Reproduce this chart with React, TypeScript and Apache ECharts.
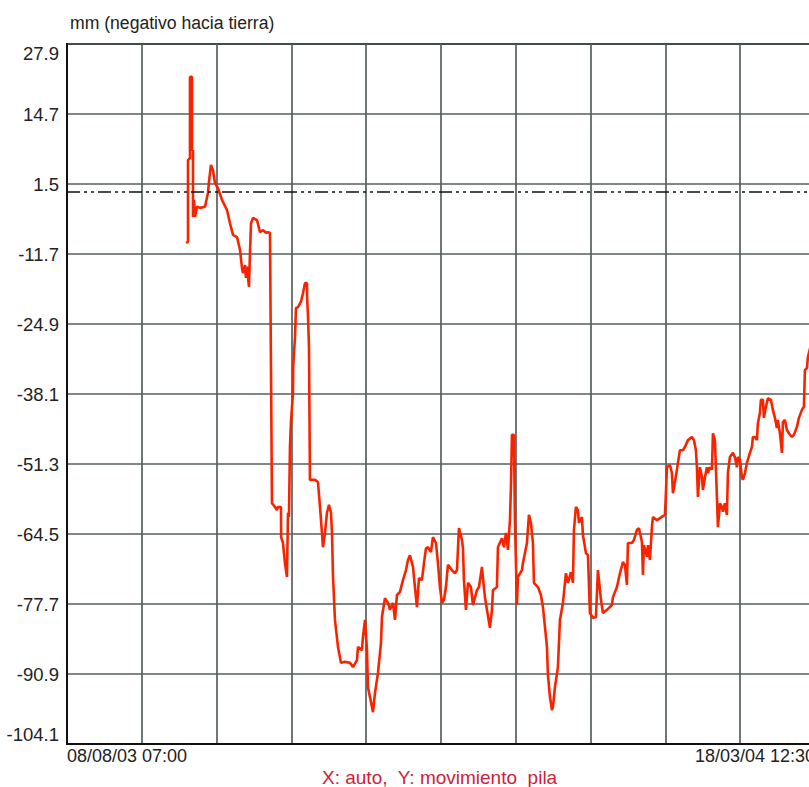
import React, { useEffect, useRef } from "react";
import * as echarts from "echarts";

// Time axis: hours elapsed since 08/08/03 07:00 up to 18/03/04 12:30 (223 days + 5.5 h)
const START_LABEL = "08/08/03 07:00";
const END_LABEL = "18/03/04 12:30";
const SPAN_HOURS = 223 * 24 + 5.5;
const X_DIVISIONS = 10;

// Y axis tick values (mm)
const Y_MIN = -104.1;
const Y_MAX = 27.9;
const Y_STEP = 13.2;

// Reference line (mm)
const REFERENCE_LEVEL = 0;

// Sample times, in days since the start
const dayOffsets = [
  35.51, 36.11, 36.11, 36.7, 36.7, 37.3, 37.3, 37.6, 37.6, 37.9, 38.2, 38.79, 39.69, 41.18, 42.07, 42.37,
  42.97, 43.57, 44.16, 45.06, 46.25, 47.74, 48.64, 49.54, 50.73, 51.63, 52.22, 52.52, 53.12, 53.41, 53.71,
  54.31, 54.61, 54.91, 55.5, 56.7, 57.59, 58.49, 59.38, 59.98, 60.58, 60.87, 61.17, 62.07, 62.67, 62.96,
  63.86, 63.9, 64.45, 65.05, 65.65, 65.95, 66.24, 66.54, 66.84, 67.44, 67.5, 68.04, 68.33, 68.93, 69.83,
  70.42, 71.02, 71.62, 71.65, 71.91, 72.21, 72.51, 74.0, 74.9, 75.5, 76.09, 76.39, 76.99, 77.58, 78.18,
  78.78, 79.08, 79.37, 79.97, 80.87, 81.76, 82.96, 84.45, 85.34, 86.54, 86.84, 88.03, 88.33, 88.93, 89.52,
  89.82, 91.01, 91.31, 91.91, 92.8, 93.7, 94.0, 94.89, 95.79, 96.39, 97.28, 97.88, 98.47, 99.37, 100.26,
  101.16, 101.76, 102.35, 103.25, 103.84, 104.44, 105.04, 105.93, 106.53, 107.13, 107.72, 108.62, 109.21,
  110.11, 110.71, 111.3, 111.9, 112.5, 113.09, 113.69, 114.88, 115.78, 116.38, 116.97, 117.87, 118.17,
  118.46, 119.06, 119.66, 120.55, 121.15, 122.34, 122.94, 123.84, 124.13, 124.73, 125.33, 126.22, 126.82,
  127.12, 128.31, 128.61, 129.8, 130.4, 131.0, 131.59, 132.19, 132.49, 132.79, 133.38, 133.68, 134.28,
  134.58, 135.77, 136.07, 137.26, 137.86, 138.46, 139.05, 139.35, 140.55, 141.44, 142.04, 142.64, 143.23,
  143.53, 144.13, 144.72, 145.02, 145.62, 146.51, 147.11, 148.01, 148.9, 149.5, 150.39, 150.99, 151.29,
  151.89, 152.48, 152.78, 153.68, 153.97, 154.87, 155.47, 156.06, 156.96, 157.85, 158.45, 159.35, 159.95,
  161.14, 162.63, 162.93, 164.12, 165.02, 165.91, 166.51, 167.1, 167.4, 168.6, 169.19, 170.09, 170.69,
  171.58, 171.88, 172.18, 173.07, 173.37, 173.97, 174.56, 174.86, 176.06, 176.95, 178.44, 178.74, 179.04,
  179.94, 180.53, 180.83, 181.43, 182.02, 182.32, 182.92, 183.81, 184.41, 185.31, 186.5, 187.1, 187.7,
  187.99, 188.29, 188.89, 189.49, 189.78, 190.38, 190.98, 191.27, 191.87, 192.47, 192.77, 193.36, 193.96,
  194.26, 194.86, 195.45, 195.75, 196.35, 196.94, 197.24, 197.84, 198.73, 199.33, 199.93, 200.23, 200.82,
  201.42, 201.72, 202.32, 202.91, 203.81, 204.4, 204.7, 205.3, 205.9, 206.19, 206.79, 207.09, 207.69,
  207.98, 208.58, 209.18, 210.07, 210.67, 211.27, 211.86, 212.16, 212.76, 213.36, 213.65, 214.25, 214.85,
  215.44, 216.34, 216.94, 217.83, 218.43, 219.33, 219.92, 220.22, 220.82, 221.12, 222.0,
];

// Pile movement, mm (negative towards the ground)
const pileMovement = [
  -9.6, -9.4, 6.0, 6.4, 21.7, 21.7, 7.9, 7.9, -4.7, -1.5, -4.7, -2.8, -3.0, -2.8, -0.2, 1.9,
  5.1, 4.1, 1.7, 0.7, -1.5, -3.4, -5.9, -8.1, -8.5, -10.9, -14.3, -15.3, -13.8, -16.2, -14.1,
  -17.9, -11.5, -5.9, -4.9, -5.3, -7.6, -7.2, -7.7, -7.6, -7.7, -33.0, -58.7, -59.4, -60.0, -59.4,
  -59.4, -65.1, -66.2, -70.0, -72.6, -60.5, -61.3, -48.1, -43.4, -37.9, -33.0, -27.4, -21.9, -21.7, -20.7,
  -19.1, -17.2, -17.2, -19.8, -23.2, -29.2, -54.3, -54.3, -54.7, -59.4, -64.3, -67.0, -64.3, -60.5, -59.0,
  -60.5, -64.3, -72.2, -80.7, -85.8, -88.8, -88.6, -88.8, -89.6, -88.3, -85.8, -86.4, -83.9, -80.7, -86.4,
  -93.4, -97.1, -98.1, -94.5, -90.7, -85.1, -80.1, -76.6, -77.5, -78.8, -77.5, -80.7, -76.0, -75.4, -73.2,
  -71.3, -69.4, -68.5, -70.7, -74.5, -78.3, -72.8, -73.2, -70.0, -67.2, -67.0, -67.9, -65.1,
  -66.2, -70.0, -74.5, -77.5, -76.9, -74.5, -70.3, -71.3, -71.9, -71.3, -63.4, -65.6, -67.2,
  -73.2, -78.8, -73.7, -74.5, -77.9, -75.1, -74.5, -70.7, -72.8, -76.4, -78.8, -82.2, -78.8,
  -75.1, -74.5, -67.0, -65.3, -67.0, -64.3, -67.5, -61.9, -55.6, -45.8, -45.8, -61.9, -77.9,
  -72.6, -71.3, -70.0, -66.2, -60.9, -62.4, -66.2, -73.7, -74.5, -76.0, -78.3, -82.0, -85.8,
  -91.1, -95.2, -97.7, -97.1, -93.4, -89.6, -80.7, -77.5, -71.9, -73.7, -71.7, -73.7, -63.7,
  -59.4, -60.0, -62.4, -61.3, -64.7, -68.1, -68.5, -79.4, -80.3, -80.2, -71.3, -76.9, -79.4,
  -78.8, -77.9, -76.4, -74.5, -71.9, -69.8, -70.3, -74.1, -66.2, -66.2, -65.6, -63.7, -63.4,
  -66.0, -72.2, -66.6, -68.8, -66.6, -69.4, -63.2, -61.3, -61.9, -61.5, -60.9, -56.8, -51.9,
  -51.5, -53.0, -56.8, -54.7, -52.4, -51.1, -48.7, -48.7, -48.1, -46.8, -46.2, -46.8, -48.7,
  -51.9, -57.5, -51.9, -53.8, -56.2, -53.8, -51.9, -53.0, -51.9, -52.4, -45.5, -46.8, -57.5,
  -63.2, -58.7, -59.4, -60.3, -58.7, -60.9, -53.0, -50.0, -49.2, -50.0, -51.9, -50.0, -50.5,
  -53.8, -54.3, -53.0, -51.1, -49.2, -48.1, -46.2, -46.2, -46.8, -43.6, -41.7, -39.2, -39.2,
  -42.6, -40.5, -38.9, -39.2, -41.1, -42.6, -44.5, -43.0, -45.5, -49.2, -43.4, -43.0, -44.9,
  -45.5, -46.2, -45.8, -44.3, -42.6, -41.1, -40.5, -33.6, -33.2, -31.1, -28.9,
];

const TITLE = "mm (negativo hacia tierra)";
const FOOTER = "X: auto,  Y: movimiento_pila";

const FONT = "'Liberation Sans', Arial, sans-serif";

export default function App() {
  const ref = useRef<HTMLDivElement>(null);

  useEffect(() => {
    if (!ref.current) return;
    const chart = echarts.init(ref.current, null, { renderer: "svg" });
    const shift = -Y_MIN; // the y axis runs from 0 so that ticks start at its minimum
    const n = Math.min(dayOffsets.length, pileMovement.length);
    const data: number[][] = [];
    for (let i = 0; i < n; i++) data.push([dayOffsets[i] * 24, pileMovement[i] + shift]);

    const option: any = {
      animation: false,
      backgroundColor: "#ffffff",
      textStyle: { fontFamily: FONT },
      title: {
        text: TITLE,
        left: 65,
        top: 9,
        textStyle: { fontFamily: FONT, fontSize: 17.6, fontWeight: "normal", color: "#222" },
      },
      grid: {
        left: 67,
        top: 44,
        right: -6,
        bottom: 43,
        show: true,
        borderColor: "#111",
        borderWidth: 2,
        containLabel: false,
        outerBoundsMode: "none",
      },
      xAxis: {
        type: "value",
        min: 0,
        max: SPAN_HOURS,
        interval: SPAN_HOURS / X_DIVISIONS,
        axisLine: { show: true, lineStyle: { color: "#111", width: 2 } },
        axisTick: { show: false },
        splitLine: { show: true, lineStyle: { color: "#56605f", width: 1.7 } },
        axisLabel: {
          show: true,
          margin: 3,
          showMinLabel: true,
          showMaxLabel: true,
          alignMinLabel: "left",
          alignMaxLabel: "right",
          hideOverlap: false,
          fontFamily: FONT,
          fontSize: 18,
          color: "#222",
          formatter: (v: number) => {
            if (Math.abs(v) < 1e-6) return START_LABEL;
            if (Math.abs(v - SPAN_HOURS) < 1e-3) return END_LABEL;
            return "";
          },
        },
      },
      yAxis: {
        type: "value",
        min: 0,
        max: Y_MAX - Y_MIN,
        interval: Y_STEP,
        axisLine: { show: true, lineStyle: { color: "#111", width: 2 } },
        axisTick: { show: false },
        splitLine: { show: true, lineStyle: { color: "#56605f", width: 1.7 } },
        axisLabel: {
          margin: 8,
          showMinLabel: true,
          showMaxLabel: true,
          verticalAlignMinLabel: "bottom",
          verticalAlignMaxLabel: "top",
          fontFamily: FONT,
          fontSize: 18.5,
          color: "#222",
          formatter: (v: number) => (v + Y_MIN).toFixed(1),
        },
      },
      series: [
        {
          type: "line",
          data,
          showSymbol: false,
          symbol: "none",
          lineStyle: { color: "#f82400", width: 2.6 },
          markLine: {
            silent: true,
            symbol: "none",
            label: { show: false },
            lineStyle: { color: "#111", width: 1.5, type: [13, 4, 3, 4, 3, 4] },
            data: [{ yAxis: REFERENCE_LEVEL + shift }],
          },
        },
      ],
      graphic: [
        {
          type: "text",
          left: 322,
          top: 768,
          style: {
            text: FOOTER,
            font: `19px ${FONT}`,
            fill: "#d0203a",
          },
        },
      ],
    };
    chart.setOption(option);
    return () => chart.dispose();
  }, []);

  return (
    <div
      ref={ref}
      style={{ position: "absolute", left: 0, top: 0, width: 809, height: 787, background: "#fff" }}
    />
  );
}
